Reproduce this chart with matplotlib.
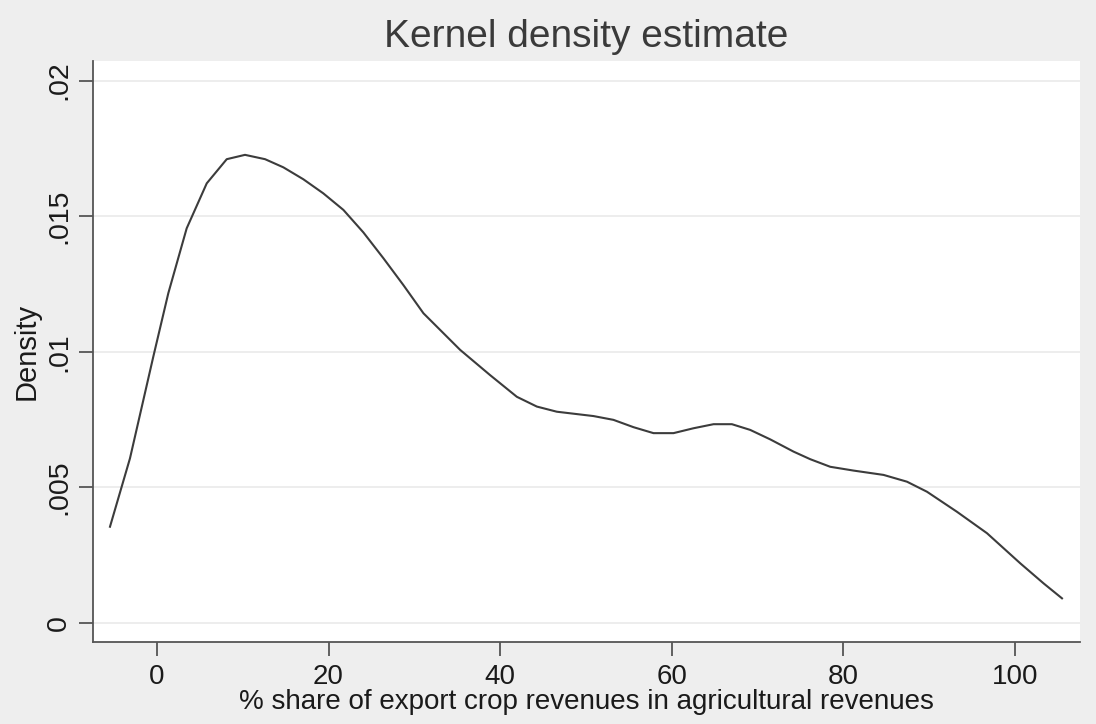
import matplotlib
matplotlib.use("Agg")
import matplotlib.pyplot as plt
from matplotlib.ticker import FixedLocator, FixedFormatter

# Data
share = [-5.48, -3.15, -0.43, 1.32, 3.46, 5.80, 8.13, 10.26, 12.60, 14.73, 17.06,
         19.39, 21.73, 24.06, 26.39, 28.72, 31.06, 35.34, 38.83, 41.95, 44.28,
         46.61, 50.88, 53.21, 55.55, 57.88, 60.21, 62.54, 64.88, 67.02, 69.15,
         71.49, 74.20, 76.15, 78.48, 81.20, 84.70, 87.43, 89.76, 93.26, 96.76,
         100.64, 103.36, 105.50]
density = [0.00355, 0.00607, 0.00982, 0.01216, 0.01455, 0.01621, 0.01710, 0.01726,
           0.01710, 0.01680, 0.01636, 0.01584, 0.01523, 0.01440, 0.01345, 0.01246,
           0.01142, 0.01007, 0.00914, 0.00834, 0.00798, 0.00779, 0.00763, 0.00749,
           0.00722, 0.00700, 0.00700, 0.00718, 0.00733, 0.00733, 0.00712, 0.00677,
           0.00632, 0.00604, 0.00576, 0.00562, 0.00546, 0.00521, 0.00484, 0.00410,
           0.00331, 0.00220, 0.00146, 0.00091]
x_ticks = [0, 20, 40, 60, 80, 100]
x_labels = ["0", "20", "40", "60", "80", "100"]
y_ticks = [0, 0.005, 0.01, 0.015, 0.02]
y_labels = ["0", ".005", ".01", ".015", ".02"]

plt.rcParams['font.family'] = ['Liberation Sans', 'DejaVu Sans']

fig = plt.figure(figsize=(10.96, 7.24), dpi=100, facecolor='#eeeeee')
ax = fig.add_axes([93/1096, 1 - 642/724, (1080-93)/1096, (642-61)/724])
ax.set_facecolor('white')

ax.plot(share, density, color='#3c3c3c', lw=1.5, solid_joinstyle='round')

ax.set_xlim(-7.46, 107.6)
ax.set_ylim(-0.0007, 0.02072)

ax.xaxis.set_major_locator(FixedLocator(x_ticks))
ax.xaxis.set_major_formatter(FixedFormatter(x_labels))
ax.yaxis.set_major_locator(FixedLocator(y_ticks))
ax.yaxis.set_major_formatter(FixedFormatter(y_labels))

ax.grid(axis='y', color='#eaeaea', lw=1.2)
ax.set_axisbelow(True)

for s in ['top', 'right']:
    ax.spines[s].set_visible(False)
for s in ['left', 'bottom']:
    ax.spines[s].set_color('#555555')
    ax.spines[s].set_linewidth(1.3)

ax.tick_params(axis='both', direction='out', length=10, width=1.3, color='#555555',
               labelcolor='#1a1a1a')
ax.tick_params(axis='x', pad=6, labelsize=20)
ax.tick_params(axis='y', pad=5, labelsize=20.5)
for lab in ax.get_yticklabels():
    lab.set_rotation(90)
    lab.set_va('center')

ax.set_xlabel("% share of export crop revenues in agricultural revenues",
              fontsize=20, color='#1a1a1a', labelpad=-1)
ax.set_ylabel("Density", fontsize=21, color='#1a1a1a', labelpad=4)
ax.set_title("Kernel density estimate", fontsize=28, color='#3a3a3a', pad=10)

fig.savefig("out.png", dpi=100, facecolor=fig.get_facecolor())
